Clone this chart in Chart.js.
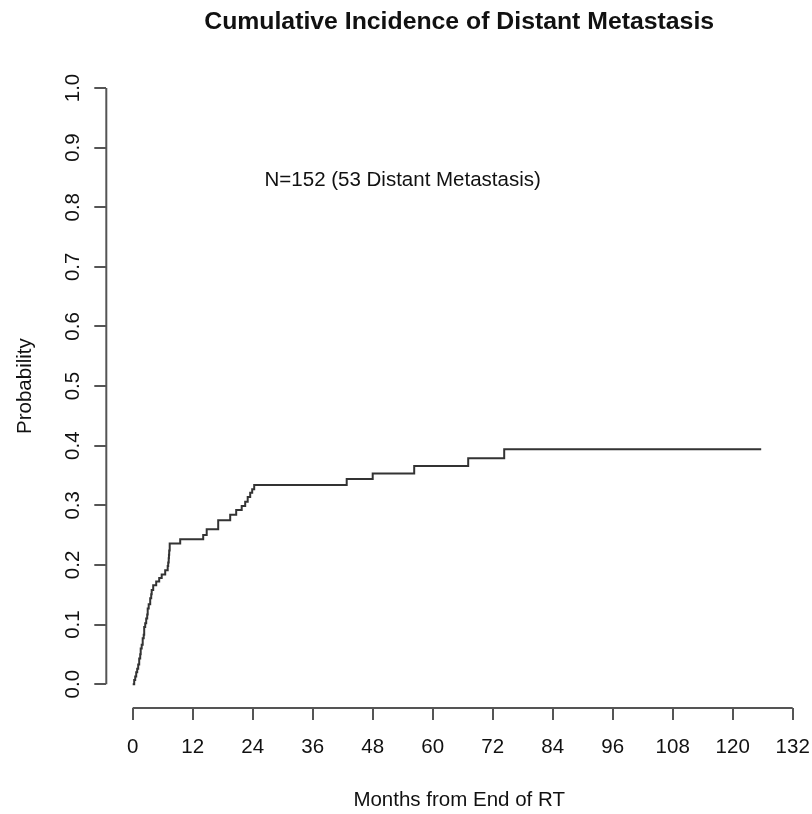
<!DOCTYPE html>
<html>
<head>
<meta charset="utf-8">
<title>Cumulative Incidence of Distant Metastasis</title>
<script src="https://cdn.jsdelivr.net/npm/chart.js@4/dist/chart.umd.min.js"></script>
<style>
    html, body { margin: 0; padding: 0; background: #fff; }
    #wrap { width: 812px; height: 814px; }
</style>
</head>
<body>
<div id="wrap"><canvas id="cif-chart" width="812" height="814"></canvas></div>
<script>
// Datos (meses desde fin de RT, incidencia acumulada)
const months = [0, 0.3, 0.5, 0.7, 0.9, 1.1, 1.3, 1.5, 1.6, 1.8, 2.0, 2.2, 2.3, 2.5, 2.7,
    2.9, 3.0, 3.2, 3.5, 3.7, 3.8, 4.1, 4.7, 5.3, 5.8, 6.5, 7.0, 7.1, 7.2, 7.25,
    7.3, 7.4, 9.5, 14.1, 14.8, 17.1, 19.5, 20.7, 21.8, 22.5, 23.0, 23.5, 23.9, 24.3,
    42.8, 48.0, 56.3, 67.1, 74.3, 125.7];
const incidence = [0, 0.007, 0.013, 0.020, 0.026, 0.033, 0.043, 0.050, 0.060, 0.066,
    0.077, 0.083, 0.096, 0.102, 0.110, 0.117, 0.127, 0.134, 0.144, 0.151, 0.158,
    0.166, 0.172, 0.178, 0.184, 0.191, 0.198, 0.204, 0.211, 0.217, 0.224, 0.236,
    0.243, 0.250, 0.260, 0.275, 0.284, 0.292, 0.299, 0.306, 0.314, 0.321, 0.327,
    0.334, 0.344, 0.3535, 0.366, 0.379, 0.394, 0.394];

const xTicks = [0, 12, 24, 36, 48, 60, 72, 84, 96, 108, 120, 132];
const yTicks = [0, 0.1, 0.2, 0.3, 0.4, 0.5, 0.6, 0.7, 0.8, 0.9, 1.0];
const yTickLabels = ["0.0", "0.1", "0.2", "0.3", "0.4", "0.5", "0.6", "0.7", "0.8", "0.9", "1.0"];

const chartTitle = "Cumulative Incidence of Distant Metastasis";
const xTitle = "Months from End of RT";
const yTitle = "Probability";
const noteText = "N=152 (53 Distant Metastasis)";
const notePos = [54, 0.845];

const textColor = "#111";
const axisColor = "#555";
const fontFamily = "'Liberation Sans', Arial, Helvetica, sans-serif";

// Ejes estilo R: línea solo entre el primer y último tick, etiquetas Y giradas y nota
const rStyleAxes = {
    id: "rStyleAxes",
    afterDraw(chart) {
        const { ctx, chartArea, scales: { x, y } } = chart;
        ctx.save();
        ctx.strokeStyle = axisColor;
        ctx.lineWidth = 2;
        ctx.beginPath();
        ctx.moveTo(x.getPixelForValue(xTicks[0]), chartArea.bottom);
        ctx.lineTo(x.getPixelForValue(xTicks[xTicks.length - 1]), chartArea.bottom);
        ctx.moveTo(chartArea.left, y.getPixelForValue(yTicks[0]));
        ctx.lineTo(chartArea.left, y.getPixelForValue(yTicks[yTicks.length - 1]));
        ctx.stroke();

        ctx.fillStyle = textColor;
        ctx.font = "20.5px " + fontFamily;
        ctx.textAlign = "center";
        ctx.textBaseline = "middle";
        yTicks.forEach((v, i) => {
            ctx.save();
            ctx.translate(chartArea.left - 32.5, y.getPixelForValue(v));
            ctx.rotate(-Math.PI / 2);
            ctx.fillText(yTickLabels[i], 0, 0);
            ctx.restore();
        });

        ctx.fillText(noteText, x.getPixelForValue(notePos[0]), y.getPixelForValue(notePos[1]));
        ctx.restore();
    },
};

document.addEventListener("DOMContentLoaded", function () {
    Chart.defaults.font.family = fontFamily;
    Chart.defaults.color = textColor;

    const ctx = document.getElementById("cif-chart").getContext("2d");
    new Chart(ctx, {
        type: "line",
        data: {
            datasets: [
                {
                    label: "Distant metastasis",
                    data: months.map((m, i) => ({ x: m, y: incidence[i] })),
                    stepped: "before",
                    borderColor: "#333",
                    borderWidth: 2,
                    pointRadius: 0,
                    fill: false,
                },
            ],
        },
        options: {
            responsive: false,
            animation: false,
            devicePixelRatio: 1,
            layout: { padding: 0 },
            plugins: {
                legend: { display: false },
                tooltip: { enabled: false },
                title: {
                    display: true,
                    text: chartTitle,
                    fullSize: false,
                    color: textColor,
                    font: { size: 24.8, weight: "bold" },
                    padding: { top: 7.2, bottom: 27.2 },
                },
            },
            scales: {
                x: {
                    type: "linear",
                    min: -5.28,
                    max: 135.86,
                    afterBuildTicks: (scale) => {
                        scale.ticks = xTicks.map((v) => ({ value: v }));
                    },
                    afterFit: (scale) => {
                        scale.height = 106;
                        scale.paddingLeft = 0;
                        scale.paddingRight = 0;
                    },
                    border: { display: false },
                    grid: {
                        drawOnChartArea: false,
                        drawTicks: true,
                        tickLength: 12,
                        color: axisColor,
                        lineWidth: 2,
                    },
                    ticks: {
                        font: { size: 20.5 },
                        color: textColor,
                        padding: 14.7,
                        maxRotation: 0,
                        autoSkip: false,
                    },
                    title: {
                        display: true,
                        text: xTitle,
                        color: textColor,
                        font: { size: 20.5 },
                        padding: { top: 0, bottom: 1.7 },
                    },
                },
                y: {
                    type: "linear",
                    min: -0.04,
                    max: 1.04,
                    afterBuildTicks: (scale) => {
                        scale.ticks = yTicks.map((v) => ({ value: v }));
                    },
                    afterFit: (scale) => {
                        scale.width = 106.3;
                        scale.paddingTop = 0;
                        scale.paddingBottom = 0;
                    },
                    border: { display: false },
                    grid: {
                        drawOnChartArea: false,
                        drawTicks: true,
                        tickLength: 12,
                        color: axisColor,
                        lineWidth: 2,
                    },
                    ticks: { display: false },
                    title: {
                        display: true,
                        text: yTitle,
                        color: textColor,
                        font: { size: 20.5 },
                        padding: { top: 12.7, bottom: 0 },
                    },
                },
            },
        },
        plugins: [rStyleAxes],
    });
});
</script>
</body>
</html>
